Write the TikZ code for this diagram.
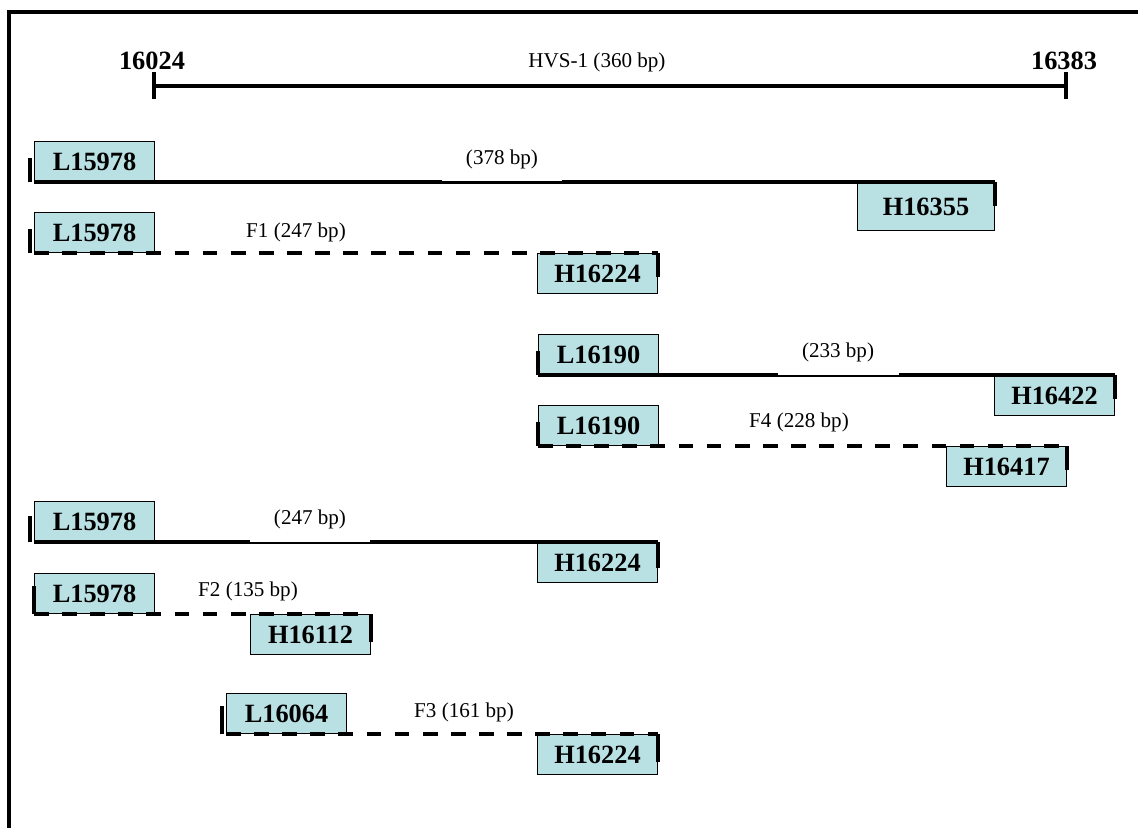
\documentclass[tikz,border=0pt]{standalone}
\usepackage{fontspec}
\setmainfont{Liberation Serif}
\usetikzlibrary{calc}
\definecolor{PrimerCyan}{HTML}{B9E0E3}
\tikzset{
    primer/.style = {draw, line width=0.6pt, fill=PrimerCyan,
        font=\fontsize{15}{18}\selectfont\bfseries,
        minimum width=2.4cm,
        minimum height=0.8cm, inner sep=0pt},
    bigprimer/.style = {primer, minimum width=2.74cm, minimum height=0.96cm},
    amplicon/.style = {line width=1.9pt},
    fragment/.style = {line width=1.9pt, dash pattern=on 8.4pt off 7.6pt},
    endtick/.style = {line width=2.2pt},
    bplabel/.style = {font=\fontsize{12}{14}\selectfont, inner sep=0pt},
    gaplabel/.style = {bplabel, fill=white, minimum width=2.42cm, minimum height=0.9cm},
    posnum/.style = {font=\fontsize{15}{18}\selectfont\bfseries, inner sep=0pt, anchor=base},
    scalebar/.style = {line width=2.3pt},
    frame/.style = {line width=2pt}
}

\begin{document}
\begin{tikzpicture}[x=0.02cm,y=-0.02cm]
        \useasboundingbox (0,0) rectangle (1138,828);
        \draw[frame] (9,828) -- (9,12) -- (1138,12);
    % HVS-1 scale
        \coordinate (s0) at (154,86);
        \coordinate (s1) at (1066,86);
        \draw[scalebar] (s0) -- (s1);
        \draw[scalebar] ($(s0)+(0,-14)$) -- ($(s0)+(0,13)$);
        \draw[scalebar] ($(s1)+(0,-14)$) -- ($(s1)+(0,13)$);
        \node[posnum] (p0) at (152,70) {16024};
        \node[posnum] (p1) at (1064,70) {16383};
        \node[bplabel, anchor=base] (hvs) at (597,68) {HVS-1 (360 bp)};
    % 378 bp
            \node[primer, anchor=south west] (la) at (34,182) {L15978};
            \node[bigprimer, anchor=north east] (ha) at (995,182) {H16355};
                \draw[amplicon] (la.south west) -- (ha.north east);
                \draw[endtick] ([xshift=-0.08cm]la.south west) -- ++(0,-24);
                \draw[endtick] (ha.north east) -- ++(0,24);
            \node[gaplabel] (ta) at (502,159) {(378 bp)};
    % F1
            \node[primer, anchor=south west] (lb) at (34,253) {L15978};
            \node[primer, anchor=north east] (hb) at (658,253) {H16224};
                \draw[fragment] (lb.south west) -- (hb.north east);
                \draw[endtick] ([xshift=-0.08cm]lb.south west) -- ++(0,-24);
                \draw[endtick] (hb.north east) -- ++(0,24);
            \node[bplabel, anchor=base] (tb) at (296,237) {F1 (247 bp)};
    % 233 bp
            \node[primer, anchor=south west] (lc) at (538,375) {L16190};
            \node[primer, anchor=north east] (hc) at (1115,375) {H16422};
                \draw[amplicon] (lc.south west) -- (hc.north east);
                \draw[endtick] (lc.south west) -- ++(0,-24);
                \draw[endtick] (hc.north east) -- ++(0,24);
            \node[gaplabel] (tc) at (838,352) {(233 bp)};
    % F4
            \node[primer, anchor=south west] (ld) at (538,446) {L16190};
            \node[primer, anchor=north east] (hd) at (1067,446) {H16417};
                \draw[fragment] (ld.south west) -- (hd.north east);
                \draw[endtick] (ld.south west) -- ++(0,-24);
                \draw[endtick] (hd.north east) -- ++(0,24);
            \node[bplabel, anchor=base] (td) at (799,427) {F4 (228 bp)};
    % 247 bp
            \node[primer, anchor=south west] (le) at (34,542) {L15978};
            \node[primer, anchor=north east] (he) at (658,542) {H16224};
                \draw[amplicon] (le.south west) -- (he.north east);
                \draw[endtick] ([xshift=-0.08cm]le.south west) -- ++(0,-26);
                \draw[endtick] (he.north east) -- ++(0,26);
            \node[gaplabel] (te) at (310,519) {(247 bp)};
    % F2
            \node[primer, anchor=south west] (lf) at (34,614) {L15978};
            \node[primer, anchor=north east] (hf) at (371,614) {H16112};
                \draw[fragment] (lf.south west) -- (hf.north east);
                \draw[endtick] (lf.south west) -- ++(0,-28);
                \draw[endtick] (hf.north east) -- ++(0,28);
            \node[bplabel, anchor=base] (tf) at (248,596) {F2 (135 bp)};
    % F3
            \node[primer, anchor=south west] (lg) at (226,734) {L16064};
            \node[primer, anchor=north east] (hg) at (658,734) {H16224};
                \draw[fragment] (lg.south west) -- (hg.north east);
                \draw[endtick] ([xshift=-0.08cm]lg.south west) -- ++(0,-28);
                \draw[endtick] (hg.north east) -- ++(0,28);
            \node[bplabel, anchor=base] (tg) at (464,717) {F3 (161 bp)};
\end{tikzpicture}
\end{document}
